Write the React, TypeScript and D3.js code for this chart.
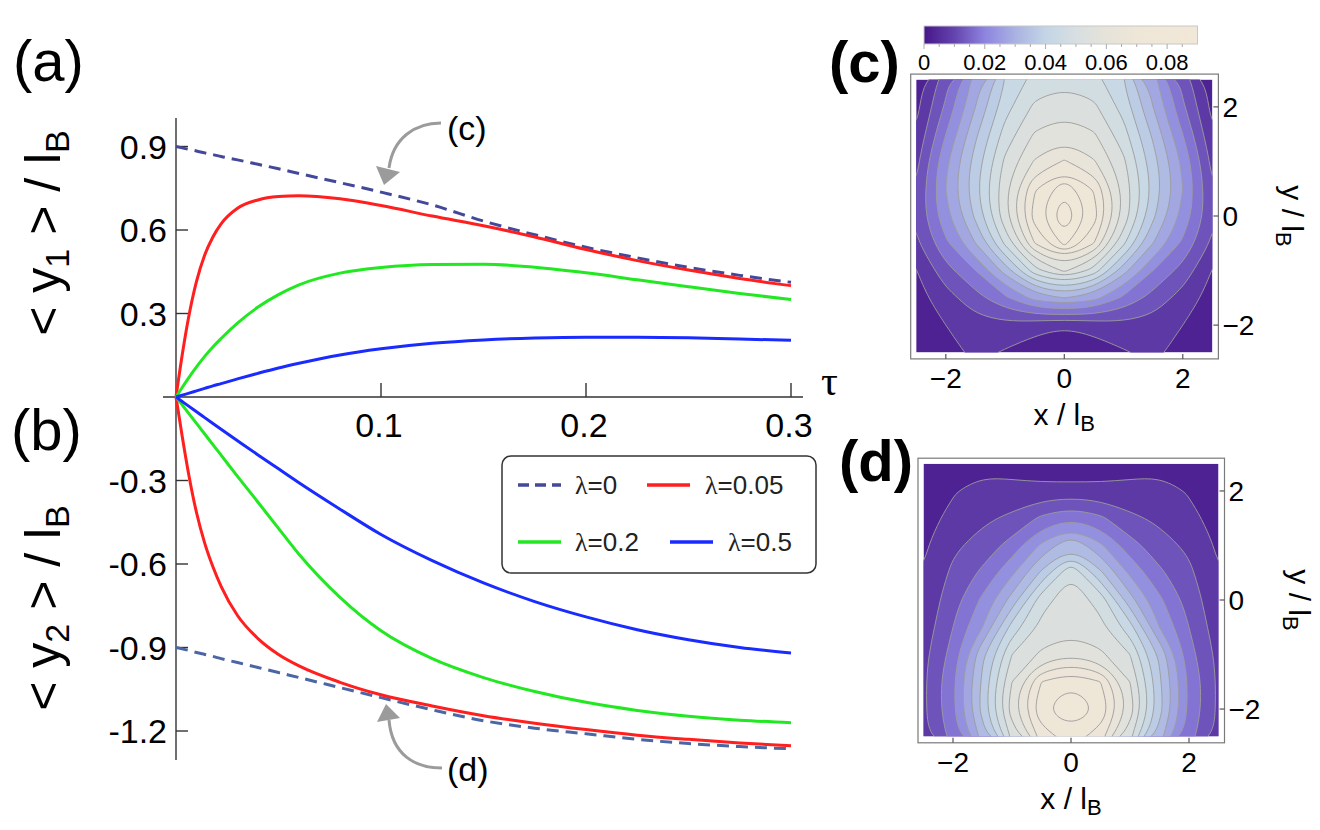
import React from 'react';
import * as d3 from 'd3';

// ---- panels (a) and (b): mean positions versus tau ----
const tau = [0, 0.003, 0.006, 0.01, 0.014, 0.018, 0.022, 0.03, 0.04, 0.05, 0.06, 0.08, 0.1, 0.125, 0.15, 0.175, 0.2, 0.225, 0.25, 0.275, 0.3];

// <y1>/lB
const y1Lam0 = [0.9, 0.895, 0.89, 0.884, 0.877, 0.871, 0.864, 0.852, 0.836, 0.82, 0.803, 0.77, 0.736, 0.69, 0.632, 0.583, 0.538, 0.5, 0.466, 0.437, 0.412];
const y1Lam005 = [0, 0.15, 0.28, 0.415, 0.51, 0.575, 0.622, 0.678, 0.708, 0.72, 0.723, 0.712, 0.688, 0.65, 0.615, 0.575, 0.53, 0.49, 0.456, 0.426, 0.4];
const y1Lam02 = [0, 0.034, 0.067, 0.108, 0.146, 0.18, 0.21, 0.265, 0.323, 0.368, 0.403, 0.445, 0.465, 0.476, 0.477, 0.466, 0.446, 0.421, 0.396, 0.372, 0.35];
const y1Lam05 = [0, 0.0066, 0.013, 0.022, 0.031, 0.04, 0.048, 0.065, 0.085, 0.104, 0.121, 0.151, 0.173, 0.193, 0.205, 0.212, 0.215, 0.215, 0.213, 0.208, 0.204];

// <y2>/lB
const y2Lam0 = [-0.9, -0.905, -0.91, -0.918, -0.925, -0.932, -0.94, -0.954, -0.972, -0.99, -1.008, -1.044, -1.08, -1.124, -1.163, -1.19, -1.21, -1.23, -1.245, -1.256, -1.264];
const y2Lam005 = [0, -0.14, -0.27, -0.415, -0.525, -0.61, -0.68, -0.785, -0.868, -0.925, -0.966, -1.025, -1.07, -1.11, -1.145, -1.172, -1.195, -1.215, -1.23, -1.243, -1.253];
const y2Lam02 = [0, -0.028, -0.057, -0.095, -0.133, -0.171, -0.209, -0.285, -0.378, -0.472, -0.565, -0.72, -0.84, -0.94, -1.008, -1.058, -1.097, -1.126, -1.147, -1.161, -1.17];
const y2Lam05 = [0, -0.016, -0.032, -0.053, -0.074, -0.095, -0.116, -0.157, -0.208, -0.258, -0.308, -0.403, -0.494, -0.588, -0.668, -0.735, -0.79, -0.836, -0.872, -0.9, -0.92];

const lambdaLabels = ['0', '0.05', '0.2', '0.5'];
const tauTicks = [0.1, 0.2, 0.3];
const yTicksA = [0.3, 0.6, 0.9];
const yTicksB = [-0.3, -0.6, -0.9, -1.2];

// ---- panels (c) and (d): density maps on a grid ----
const gridX = [-2.5, -2, -1.5, -1, -0.5, 0, 0.5, 1, 1.5, 2, 2.5];
const gridY = [2.5, 2, 1.5, 1, 0.5, 0, -0.5, -1, -1.5, -2, -2.5]; // rows top to bottom

const densityC = [
  [0.002, 0.013, 0.027, 0.04, 0.047, 0.0485, 0.047, 0.04, 0.027, 0.013, 0.002],
  [0.0035, 0.016, 0.03, 0.043, 0.051, 0.053, 0.051, 0.043, 0.03, 0.016, 0.0035],
  [0.0058, 0.02, 0.034, 0.047, 0.0555, 0.058, 0.0555, 0.047, 0.034, 0.02, 0.0058],
  [0.0085, 0.024, 0.037, 0.051, 0.0605, 0.0655, 0.0605, 0.051, 0.037, 0.024, 0.0085],
  [0.0105, 0.025, 0.0385, 0.0535, 0.0695, 0.0785, 0.0695, 0.0535, 0.0385, 0.025, 0.0105],
  [0.011, 0.0235, 0.036, 0.0535, 0.0725, 0.0845, 0.0725, 0.0535, 0.036, 0.0235, 0.011],
  [0.009, 0.019, 0.03, 0.046, 0.065, 0.0765, 0.065, 0.046, 0.03, 0.019, 0.009],
  [0.0048, 0.013, 0.02, 0.032, 0.048, 0.056, 0.048, 0.032, 0.02, 0.013, 0.0048],
  [0.003, 0.008, 0.013, 0.019, 0.027, 0.03, 0.027, 0.019, 0.013, 0.008, 0.003],
  [0.002, 0.005, 0.008, 0.0085, 0.007, 0.0055, 0.007, 0.0085, 0.008, 0.005, 0.002],
  [0.001, 0.0025, 0.0065, 0.0045, 0.002, 0.001, 0.002, 0.0045, 0.0065, 0.0025, 0.001],
];

const densityD = [
  [0.001, 0.002, 0.0025, 0.0025, 0.002, 0.002, 0.002, 0.0025, 0.0025, 0.002, 0.001],
  [0.0015, 0.0045, 0.0075, 0.0068, 0.0065, 0.0065, 0.0065, 0.0068, 0.0075, 0.0045, 0.0015],
  [0.003, 0.0065, 0.009, 0.011, 0.016, 0.0195, 0.016, 0.011, 0.009, 0.0065, 0.003],
  [0.0042, 0.009, 0.012, 0.017, 0.026, 0.0345, 0.026, 0.017, 0.012, 0.009, 0.0042],
  [0.0053, 0.011, 0.016, 0.024, 0.036, 0.0495, 0.036, 0.024, 0.016, 0.011, 0.0053],
  [0.0062, 0.013, 0.021, 0.032, 0.048, 0.053, 0.048, 0.032, 0.021, 0.013, 0.0062],
  [0.007, 0.015, 0.025, 0.042, 0.0515, 0.053, 0.0515, 0.042, 0.025, 0.015, 0.007],
  [0.0085, 0.017, 0.034, 0.05, 0.056, 0.059, 0.056, 0.05, 0.034, 0.017, 0.0085],
  [0.009, 0.019, 0.036, 0.055, 0.07, 0.0745, 0.07, 0.055, 0.036, 0.019, 0.009],
  [0.009, 0.019, 0.037, 0.058, 0.0745, 0.079, 0.0745, 0.058, 0.037, 0.019, 0.009],
  [0.0085, 0.017, 0.032, 0.051, 0.067, 0.073, 0.067, 0.051, 0.032, 0.017, 0.0085],
];

const contourLevels = [0.005, 0.01, 0.015, 0.02, 0.025, 0.03, 0.035, 0.04, 0.045, 0.05, 0.055, 0.06, 0.065, 0.07, 0.075, 0.08, 0.085];
const mapTicks = [-2, 0, 2];
const barTicks = [0, 0.02, 0.04, 0.06, 0.08];
const barMinorTicks = [0, 0.005, 0.01, 0.015, 0.02, 0.025, 0.03, 0.035, 0.04, 0.045, 0.05, 0.055, 0.06, 0.065, 0.07, 0.075, 0.08, 0.085];

// colour map (value -> colour)
const colorVals = [0, 0.01, 0.02, 0.03, 0.04, 0.05, 0.06, 0.07, 0.09];
const colorHex = ['#47168a', '#6444ae', '#8d84df', '#a9b2e2', '#c3d5e6', '#d7dfe1', '#e6e3da', '#eee6d7', '#f1e8d8'];

const FONT = '"Liberation Sans", Arial, Helvetica, sans-serif';
const SERIF = '"Liberation Serif", "DejaVu Serif", serif';
const RED = '#ff1f1f';
const GREEN = '#22e822';
const BLUE = '#1a2bff';

const colorScale = d3.scaleLinear<string>().domain(colorVals).range(colorHex).interpolate(d3.interpolateRgb);

// scales for (a)/(b)
const xTau = d3.scaleLinear().domain([0, 0.3]).range([176, 791]);
const yVal = d3.scaleLinear().domain([-1.2, 0.9]).range([731, 146.5]);

const curve = d3.line<number>()
  .x((d, i) => xTau(tau[i]))
  .y(d => yVal(d))
  .curve(d3.curveMonotoneX);

function ContourMap({ grid, id, x0, x1, y0, y1 }: { grid: number[][]; id: string; x0: number; x1: number; y0: number; y1: number }) {
  const n = gridX.length;
  const xs = d3.scaleLinear().domain([-2.5, 2.5]).range([x0, x1]);
  const ys = d3.scaleLinear().domain([-2.5, 2.5]).range([y1, y0]);
  // d3.contours places sample i at grid coordinate i + 0.5
  const gcx = d3.scaleLinear().domain([0.5, n - 0.5]).range([gridX[0], gridX[n - 1]]);
  const gcy = d3.scaleLinear().domain([0.5, n - 0.5]).range([gridY[0], gridY[n - 1]]);
  const bands = d3.contours().size([n, n]).thresholds(contourLevels)(grid.flat());
  const ring = d3.line<number[]>()
    .x(p => xs(gcx(p[0])))
    .y(p => ys(gcy(p[1])))
    .curve(d3.curveBasisClosed);
  const pathOf = (mp: any) =>
    mp.coordinates.map((poly: number[][][]) => poly.map(r => ring(r.slice(0, -1)) || '').join('')).join('');
  const step = contourLevels[1] - contourLevels[0];
  const fx0 = x0 - 5.5, fx1 = x1 + 6, fy0 = y0 - 5.5, fy1 = y1 + 6.5;
  return (
    <g>
      <defs>
        <clipPath id={id}>
          <rect x={x0} y={y0} width={x1 - x0} height={y1 - y0} />
        </clipPath>
      </defs>
      <g clipPath={`url(#${id})`}>
        <rect x={x0} y={y0} width={x1 - x0} height={y1 - y0} fill={colorScale(step / 2)} />
        {bands.map((b, i) => (
          <path key={'f' + i} d={pathOf(b)} fill={colorScale(b.value + step / 2)} fillRule="evenodd" />
        ))}
        {bands.map((b, i) => (
          <path key={'l' + i} d={pathOf(b)} fill="none" stroke="#9c9c9c" strokeWidth={0.9} />
        ))}
      </g>
      <rect x={fx0} y={fy0} width={fx1 - fx0} height={fy1 - fy0} fill="none" stroke="#7a7a7a" strokeWidth={1.2} />
      {mapTicks.map(t => (
        <g key={'tx' + t}>
          <line x1={xs(t)} x2={xs(t)} y1={fy1} y2={fy1 - 5} stroke="#555" strokeWidth={1.2} />
          <text x={xs(t)} y={fy1 + 29} textAnchor="middle" fontSize={28} fontFamily={FONT}>
            {t < 0 ? '\u2212' + Math.abs(t) : t}
          </text>
        </g>
      ))}
      {mapTicks.map(t => (
        <g key={'ty' + t}>
          <line x1={fx1} x2={fx1 - 5} y1={ys(t)} y2={ys(t)} stroke="#555" strokeWidth={1.2} />
          <text x={fx1 + 4} y={ys(t) + 10} fontSize={28} fontFamily={FONT}>
            {t < 0 ? '\u2212' + Math.abs(t) : t}
          </text>
        </g>
      ))}
      <text x={(x0 + x1) / 2} y={fy1 + 66} textAnchor="middle" fontSize={30} fontFamily={FONT}>
        x / l<tspan fontSize={22} dy={6}>B</tspan>
      </text>
      <text transform={`translate(${fx1 + 64},${(y0 + y1) / 2}) rotate(90)`} textAnchor="middle" fontSize={30} fontFamily={FONT}>
        y / l<tspan fontSize={22} dy={6}>B</tspan>
      </text>
    </g>
  );
}

export default function App() {
  const barScale = d3.scaleLinear().domain([0, 0.09]).range([924, 1197.5]);
  const seriesA = [y1Lam0, y1Lam005, y1Lam02, y1Lam05];
  const seriesB = [y2Lam0, y2Lam005, y2Lam02, y2Lam05];
  const strokes = ['#44489a', RED, GREEN, BLUE];
  const strokesB = ['#4b66a5', RED, GREEN, BLUE];
  const legendPos = [
    { lx: 518, tx: 575, y: 485 },
    { lx: 647, tx: 705, y: 485 },
    { lx: 518, tx: 575, y: 542 },
    { lx: 670, tx: 728, y: 542 },
  ];

  return (
    <svg width={1320} height={830} style={{ position: 'absolute', left: 0, top: 0, background: '#fff' }} fontFamily={FONT}>
      <rect width={1320} height={830} fill="#fff" />

      {/* panel labels */}
      <text x={13} y={81} fontSize={58}>(a)</text>
      <text x={11} y={450} fontSize={58}>(b)</text>
      <text x={829} y={82} fontSize={58} fontWeight="bold">(c)</text>
      <text x={839} y={481} fontSize={58} fontWeight="bold">(d)</text>

      {/* y-axis titles */}
      <text transform="translate(60,233) rotate(-90)" textAnchor="middle" fontSize={50}>
        {'< y'}<tspan fontSize={34} dy={9}>1</tspan><tspan dy={-9}>{' > / l'}</tspan><tspan fontSize={34} dy={9}>B</tspan>
      </text>
      <text transform="translate(60,608) rotate(-90)" textAnchor="middle" fontSize={50}>
        {'< y'}<tspan fontSize={34} dy={9}>2</tspan><tspan dy={-9}>{' > / l'}</tspan><tspan fontSize={34} dy={9}>B</tspan>
      </text>

      {/* axes */}
      <line x1={176} x2={176} y1={118} y2={760} stroke="#333" strokeWidth={1.4} />
      <line x1={163} x2={803} y1={yVal(0)} y2={yVal(0)} stroke="#333" strokeWidth={1.4} />
      {[...yTicksA, ...yTicksB].map(t => (
        <g key={'y' + t}>
          <line x1={176} x2={188} y1={yVal(t)} y2={yVal(t)} stroke="#333" strokeWidth={1.4} />
          <text x={167} y={yVal(t) + 12} textAnchor="end" fontSize={34}>{t.toFixed(1)}</text>
        </g>
      ))}
      {tauTicks.map(t => (
        <g key={'x' + t}>
          <line x1={xTau(t)} x2={xTau(t)} y1={yVal(0)} y2={yVal(0) - 14} stroke="#333" strokeWidth={1.4} />
          <text x={xTau(t) - 2} y={437} textAnchor="middle" fontSize={34}>{t.toFixed(1)}</text>
        </g>
      ))}
      <text x={821} y={395} fontSize={42} fontFamily={SERIF}>τ</text>

      {/* curves */}
      {seriesA.map((s, i) => (
        <path key={'a' + i} d={curve(s) || ''} fill="none" stroke={strokes[i]} strokeWidth={3}
          strokeDasharray={i === 0 ? '12 7' : undefined} />
      ))}
      {seriesB.map((s, i) => (
        <path key={'b' + i} d={curve(s) || ''} fill="none" stroke={strokesB[i]} strokeWidth={3}
          strokeDasharray={i === 0 ? '12 7' : undefined} />
      ))}

      {/* annotation arrows */}
      <g stroke="#9b9b9b" strokeWidth={3} fill="none">
        <path d="M 441 123 C 415 123, 393 138, 389 168" />
        <path d="M 442 768 C 415 768, 392 755, 389 720" />
      </g>
      <polygon points="376,166 400,172 384,185" fill="#9b9b9b" />
      <polygon points="377,722 400,718 386,704" fill="#9b9b9b" />
      <text x={447} y={140} fontSize={34}>(c)</text>
      <text x={447} y={781} fontSize={34}>(d)</text>

      {/* legend */}
      <rect x={502} y={456} width={314} height={117} rx={9} fill="#fff" stroke="#333" strokeWidth={1.5} />
      {lambdaLabels.map((l, i) => (
        <g key={'lg' + i}>
          <line x1={legendPos[i].lx} x2={legendPos[i].lx + 43} y1={legendPos[i].y} y2={legendPos[i].y}
            stroke={strokes[i]} strokeWidth={3.5} strokeDasharray={i === 0 ? '11 6' : undefined} />
          <text x={legendPos[i].tx} y={legendPos[i].y + 9} fontSize={26} fill="#222">
            <tspan fontFamily={SERIF}>λ</tspan>={l}
          </text>
        </g>
      ))}

      {/* colour bar */}
      <defs>
        <linearGradient id="cbar" x1="0" x2="1" y1="0" y2="0">
          {colorVals.map((v, i) => (
            <stop key={i} offset={`${(v / 0.09) * 100}%`} stopColor={colorHex[i]} />
          ))}
        </linearGradient>
      </defs>
      <rect x={barScale(0)} y={26} width={barScale(0.09) - barScale(0)} height={18} fill="url(#cbar)" stroke="#c8c8c8" strokeWidth={1} />
      {barMinorTicks.map(t => (
        <line key={'bm' + t} x1={barScale(t)} x2={barScale(t)} y1={44} y2={barTicks.includes(t) ? 49 : 47} stroke="#aaa" strokeWidth={1} />
      ))}
      {barTicks.map(t => (
        <text key={'bt' + t} x={barScale(t)} y={70} textAnchor="middle" fontSize={22}>
          {t === 0 ? '0' : t.toFixed(2)}
        </text>
      ))}

      <ContourMap grid={densityC} id="clipC" x0={916.2} x1={1212.4} y0={79.6} y1={352.4} />
      <ContourMap grid={densityD} id="clipD" x0={923.5} x1={1218.5} y0={463.7} y1={736.3} />
    </svg>
  );
}
